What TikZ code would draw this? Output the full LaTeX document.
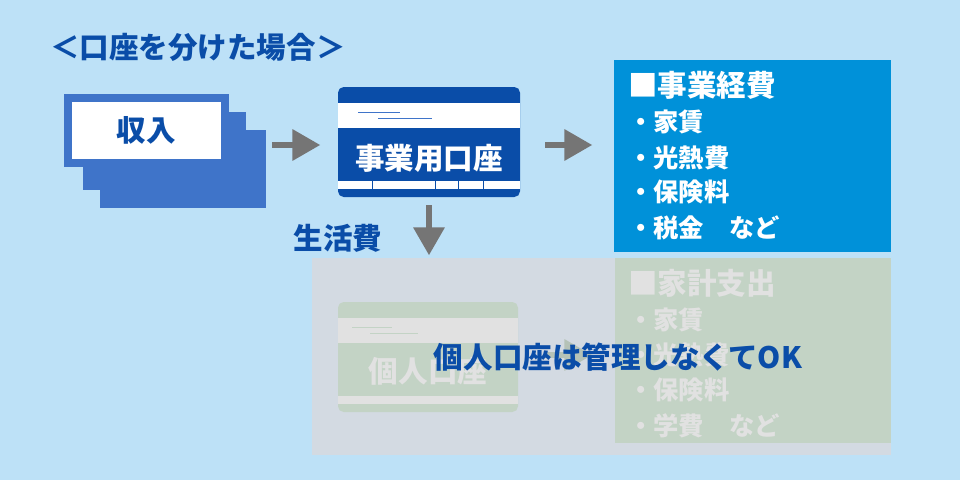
\documentclass[tikz,border=0pt]{standalone}
\usepackage{fontspec}
\setmainfont{Noto Sans CJK JP}[BoldFont={Noto Sans CJK JP Black}]
\usepackage{tikz}
\usetikzlibrary{shapes,arrows,positioning}
\definecolor{bgblue}{HTML}{BDE1F7}
\definecolor{navy}{HTML}{0A4DA8}
\definecolor{midblue}{HTML}{3F74C9}
\definecolor{skyblue}{HTML}{0091D9}
\definecolor{fadebg}{HTML}{D3DAE2}
\definecolor{fadegreen}{HTML}{C3D3C5}
\definecolor{fadetext}{HTML}{E1E1E1}
\definecolor{arrowgray}{HTML}{757575}
\tikzstyle{txt} = [font=\fontsize{21}{24}\selectfont\bfseries, inner sep=0pt]
\tikzstyle{item} = [txt, font=\fontsize{18}{21}\selectfont\bfseries, anchor=west]
\tikzstyle{flow} = [draw=arrowgray, line width=0.16cm, -triangle 60]

\begin{document}
\begin{tikzpicture}[x=0.025cm, y=-0.025cm]
\fill[bgblue] (0,0) rectangle (960,480);
\useasboundingbox (0,0) rectangle (960,480);
% title
\node[txt, text=navy, anchor=west] (title) at (50,47) {＜口座を分けた場合＞};
% income stack
\fill[midblue] (100,130) rectangle (266,208);
\fill[midblue] (83,112) rectangle (246,190);
\draw[midblue, fill=white, line width=0.2cm] (68,98) rectangle (225,163);
\node[txt, text=navy] (income) at (146,130) {収入};
% business card
\fill[navy, rounded corners=4] (338,87) rectangle (520,197);
\fill[white] (338,103) rectangle (520,128);
\draw[midblue, thin] (358,112) -- (400,112) (378,118) -- (432,118);
\fill[white] (338,181) rectangle (520,189);
\draw[navy, thin] (372,181) -- (372,189) (435,181) -- (435,189) (458,181) -- (458,189) (483,181) -- (483,189);
\node[txt, text=white] (bizcard) at (429,158) {事業用口座};
\coordinate (cardR) at (520,145);
\coordinate (cardB) at (429,205);
% business expenses
\fill[skyblue] (614,60) rectangle (891,252);
\node[txt, text=white, anchor=west] (bizhead) at (628,85) {■事業経費};
\foreach \y/\t in {122/家賃, 158/光熱費, 192/保険料, 228/税金　など}
  \node[item, text=white] at (628,\y) {・\t};
% arrows
\coordinate (stackR) at (272,145);
\draw[flow] (stackR) -- ++(48,0);
\draw[flow] (cardR) ++(25,0) -- ++(47,0);
\draw[flow] (cardB) -- ++(0,50);
\node[txt, text=navy] (living) at (338,238) {生活費};
% faded private area
\fill[fadebg] (312,258) rectangle (891,455);
\fill[fadegreen] (615,258) rectangle (891,443);
\node[txt, text=fadetext, anchor=west] (homehead) at (628,283) {■家計支出};
\foreach \y/\t in {320/家賃, 355/光熱費, 390/保険料, 426/学費　など}
  \node[item, text=fadetext] at (628,\y) {・\t};
\fill[fadegreen, rounded corners=4] (338,302) rectangle (518,412);
\fill[fadetext] (338,318) rectangle (518,343);
\draw[fadegreen] (352,327) -- (392,327) (370,333) -- (418,333);
\fill[fadetext] (338,396) rectangle (518,404);
\node[txt, text=fadetext] (privcard) at (428,371) {個人口座};
\draw[draw=fadegreen!80!gray, line width=0.16cm, -triangle 60] (545,355) -- (592,355);
% note
\node[txt, text=navy] (note) at (618,357) {個人口座は管理しなくてOK};
\end{tikzpicture}
\end{document}
